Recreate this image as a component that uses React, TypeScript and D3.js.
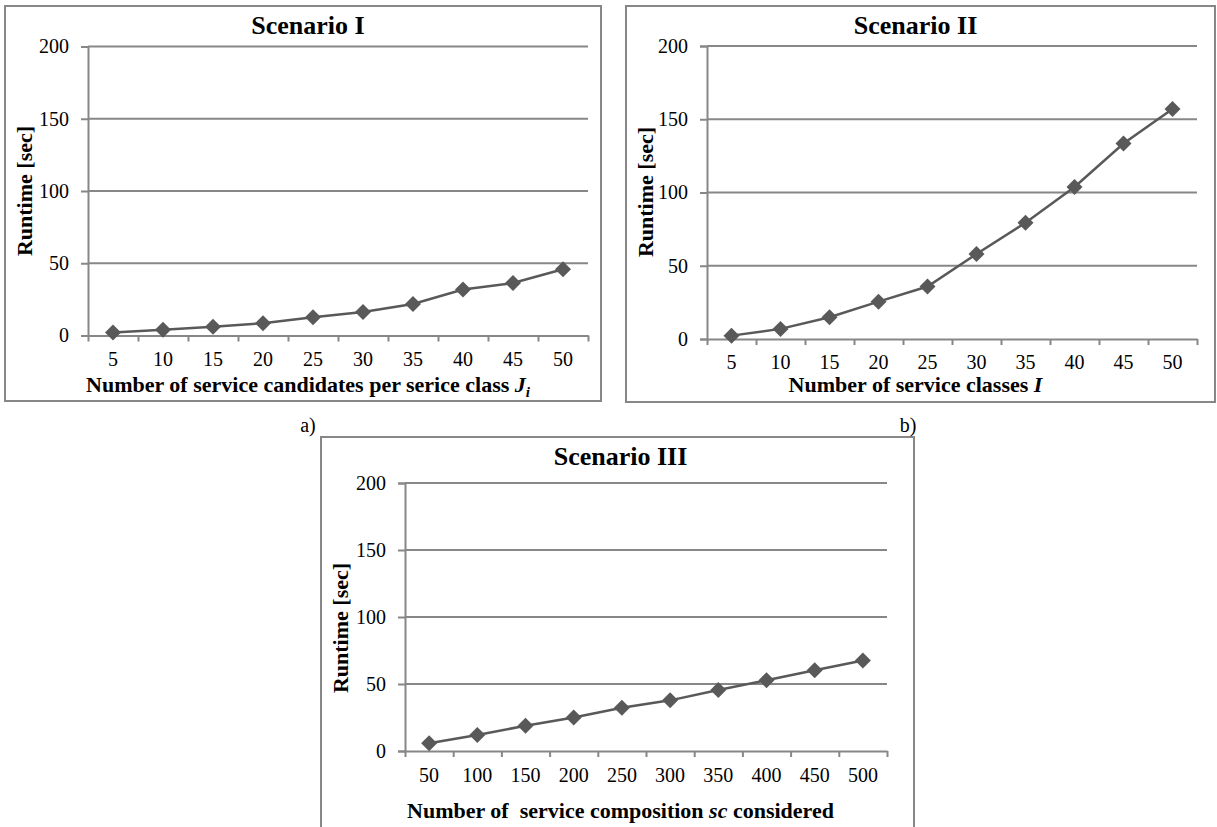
import React, { useEffect, useRef } from "react";
import * as d3 from "d3";

// data
const candidates = [5, 10, 15, 20, 25, 30, 35, 40, 45, 50];
const runtimeCandidates = [2, 4, 6, 8.5, 12.7, 16.3, 21.8, 31.8, 36.3, 45.8];

const classes = [5, 10, 15, 20, 25, 30, 35, 40, 45, 50];
const runtimeClasses = [2.3, 6.9, 14.9, 25.5, 35.8, 58, 79.4, 103.8, 133.4, 157];

const compositions = [50, 100, 150, 200, 250, 300, 350, 400, 450, 500];
const runtimeCompositions = [5.8, 12, 18.8, 25, 32.2, 37.8, 45.5, 52.8, 60.2, 67.5];

const yTicks = [0, 50, 100, 150, 200];

const GRID = "#878787";
const MARK = "#595959";
const FONT = "'Liberation Serif', 'Times New Roman', serif";

const panels = [
  {
    title: "Scenario I",
    xs: candidates,
    ys: runtimeCandidates,
    xTitle: [
      { t: "Number of service candidates per serice class ", it: false },
      { t: "J", it: true },
      { t: "i", it: true, sub: true },
    ],
    box: [5, 6, 601, 401],
    plot: [88, 46.5, 588, 335.5],
    titleY: 34, tickY: 366, xTitleY: 392, yLabelY: 191, shift: 5,
  },
  {
    title: "Scenario II",
    xs: classes,
    ys: runtimeClasses,
    xTitle: [
      { t: "Number of service classes ", it: false },
      { t: "I", it: true },
    ],
    box: [626, 6, 1215, 402],
    plot: [707, 46, 1197, 339],
    titleY: 34, tickY: 369, xTitleY: 392, yLabelY: 192, shift: -5,
  },
  {
    title: "Scenario III",
    xs: compositions,
    ys: runtimeCompositions,
    xTitle: [
      { t: "Number of  service composition ", it: false },
      { t: "sc", it: true },
      { t: " considered", it: false },
    ],
    box: [321, 437, 914, 845],
    plot: [405, 483, 887, 751],
    titleY: 465, tickY: 782, xTitleY: 818, yLabelY: 628, shift: 3,
  },
];

const App = () => {
  const svgRef = useRef<SVGSVGElement>(null);

  useEffect(() => {
    const svg = d3.select(svgRef.current);
    svg.selectAll("*").remove();

    panels.forEach((p) => {
      const g = svg.append("g").attr("font-family", FONT);
      const [bx0, by0, bx1, by1] = p.box;
      const [px0, py0, px1, py1] = p.plot;

      g.append("rect")
        .attr("x", bx0)
        .attr("y", by0)
        .attr("width", bx1 - bx0)
        .attr("height", by1 - by0)
        .attr("fill", "#fff")
        .attr("stroke", GRID)
        .attr("stroke-width", 2);

      const x = d3
        .scaleBand<number>()
        .domain(p.xs)
        .range([px0, px1]);
      const xEdge = d3.scaleLinear().domain([0, p.xs.length]).range([px0, px1]);
      const y = d3.scaleLinear().domain([0, 200]).range([py1, py0]);

      // gridlines
      g.selectAll(".grid")
        .data(yTicks.filter((d) => d > 0))
        .join("line")
        .attr("x1", px0)
        .attr("x2", px1)
        .attr("y1", (d) => y(d))
        .attr("y2", (d) => y(d))
        .attr("stroke", GRID)
        .attr("stroke-width", 2);

      // y axis
      const yAxis = g
        .append("g")
        .attr("transform", `translate(${px0},0)`)
        .call(d3.axisLeft(y).tickValues(yTicks).tickSize(7).tickPadding(12));
      yAxis.select(".domain").attr("stroke", GRID).attr("stroke-width", 2);
      yAxis.selectAll(".tick line").attr("stroke", GRID).attr("stroke-width", 2);
      yAxis
        .selectAll(".tick text")
        .attr("fill", "#000")
        .attr("font-size", 20)
        .attr("font-family", FONT);

      // x axis: ticks on category boundaries
      const xAxis = g
        .append("g")
        .attr("transform", `translate(0,${py1})`)
        .call(
          d3
            .axisBottom(xEdge)
            .tickValues(d3.range(0, p.xs.length + 1))
            .tickSize(6)
            .tickFormat(() => "")
            .tickSizeOuter(0)
        );
      xAxis.select(".domain").attr("stroke", GRID).attr("stroke-width", 2);
      xAxis.selectAll(".tick line").attr("stroke", GRID).attr("stroke-width", 2);

      g.selectAll(".xlab")
        .data(p.xs)
        .join("text")
        .attr("x", (d) => x(d)! + x.bandwidth() / 2)
        .attr("y", p.tickY)
        .attr("text-anchor", "middle")
        .attr("font-size", 20)
        .text((d) => d);

      // line + diamonds
      const pts = p.xs.map((d, i) => [x(d)! + x.bandwidth() / 2, y(p.ys[i])] as [number, number]);
      g.append("path")
        .datum(pts)
        .attr("fill", "none")
        .attr("stroke", MARK)
        .attr("stroke-width", 2.5)
        .attr("d", d3.line());

      g.selectAll(".dot")
        .data(pts)
        .join("path")
        .attr("transform", (d) => `translate(${d[0]},${d[1]})`)
        .attr("d", "M0,-8L8,0L0,8L-8,0Z")
        .attr("fill", MARK);

      const cx = (bx0 + bx1) / 2 + p.shift;

      g.append("text")
        .attr("x", cx)
        .attr("y", p.titleY)
        .attr("text-anchor", "middle")
        .attr("font-size", 26)
        .attr("font-weight", "bold")
        .text(p.title);

      g.append("text")
        .attr("transform", `translate(${bx0 + 27},${p.yLabelY}) rotate(-90)`)
        .attr("text-anchor", "middle")
        .attr("font-size", 22)
        .attr("font-weight", "bold")
        .text("Runtime [sec]");

      const xt = g
        .append("text")
        .attr("x", cx)
        .attr("y", p.xTitleY)
        .attr("text-anchor", "middle")
        .attr("font-size", 22)
        .attr("font-weight", "bold")
        .style("white-space", "pre");
      p.xTitle.forEach((s) => {
        const ts = xt
          .append("tspan")
          .attr("font-style", s.it ? "italic" : "normal")
          .text(s.t);
        if (s.sub) ts.attr("dy", 5).attr("font-size", 15);
      });
    });

    svg
      .append("text")
      .attr("x", 308)
      .attr("y", 432)
      .attr("text-anchor", "middle")
      .attr("font-family", FONT)
      .attr("font-size", 20)
      .text("a)");
    svg
      .append("text")
      .attr("x", 908)
      .attr("y", 432)
      .attr("text-anchor", "middle")
      .attr("font-family", FONT)
      .attr("font-size", 20)
      .text("b)");
  }, []);

  return (
    <svg
      ref={svgRef}
      width={1217}
      height={827}
      style={{ position: "absolute", left: 0, top: 0, background: "#fff" }}
    />
  );
};

export default App;
